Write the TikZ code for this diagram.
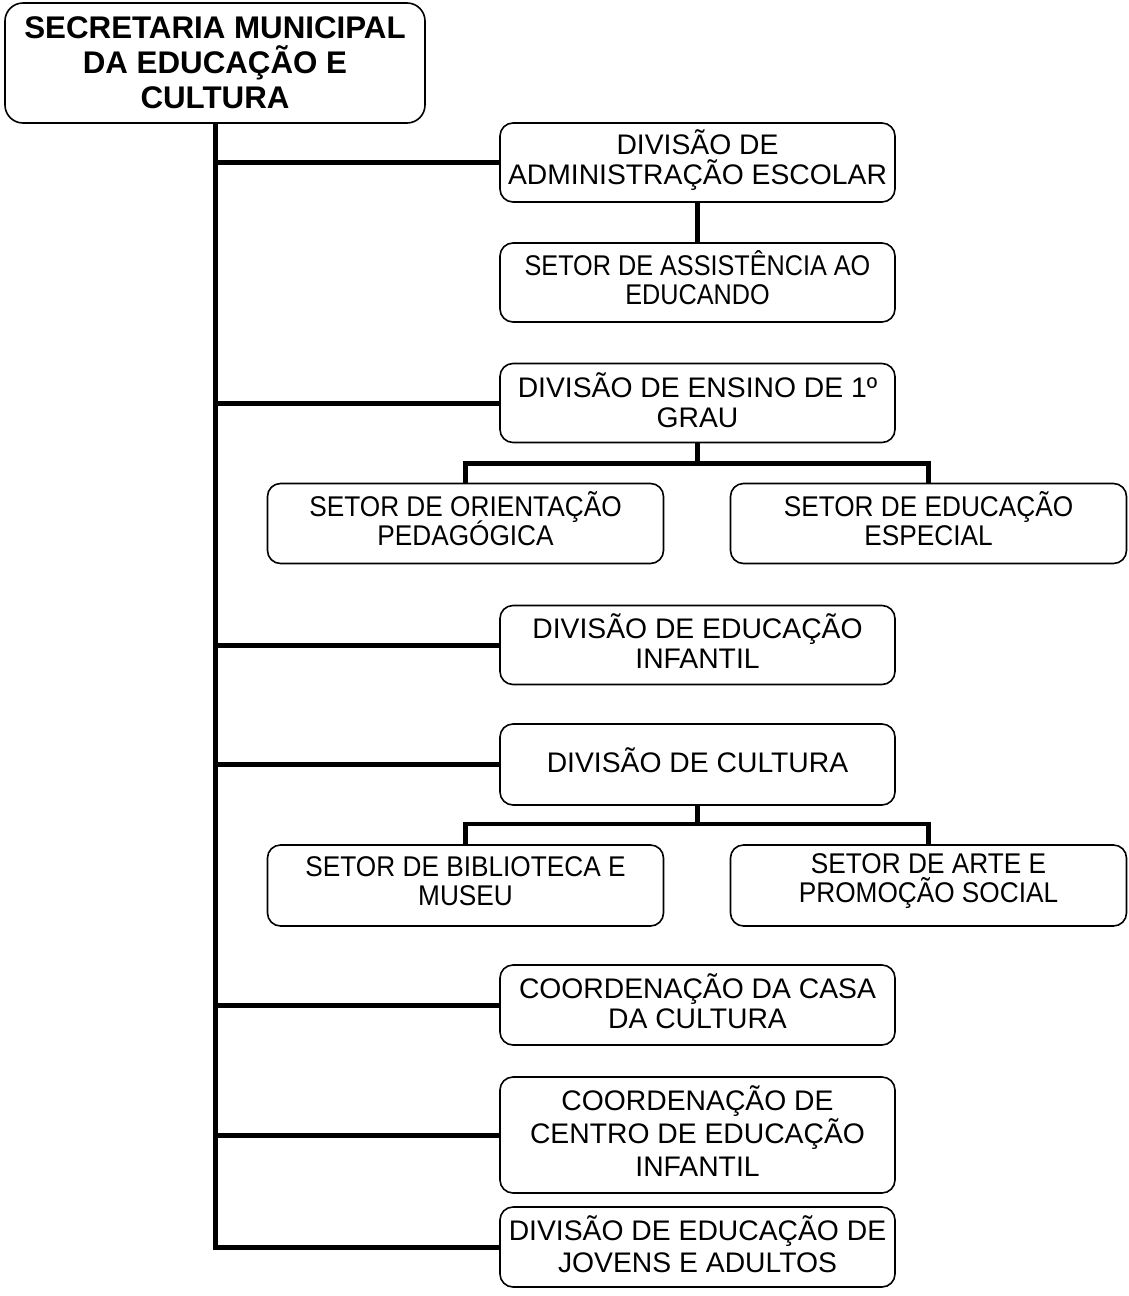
\documentclass[tikz,border=0pt]{standalone}
\usepackage{fontspec}
\setmainfont{Liberation Sans}
\newfontfamily\setorfamily[FakeStretch=0.92]{Liberation Sans}
\newfontfamily\setornarrow[FakeStretch=0.885]{Liberation Sans}
\begin{document}
% keep a steady line pitch even where accents and cedillas meet
\lineskiplimit=-100pt
\begin{tikzpicture}[x=1pt,y=-1pt,
  box/.style={draw, line width=1.6pt, rounded corners=13pt, inner sep=0pt, fill=white},
  topbox/.style={box, rounded corners=18pt, minimum width=420pt, minimum height=120pt,
    align=center, font=\fontsize{31.3}{35}\selectfont\bfseries},
  divbox/.style={box, minimum width=395pt, minimum height=79pt},
  setorbox/.style={box, minimum width=396pt, minimum height=80pt},
  divtext/.style={inner sep=0pt, align=center, yshift=4pt,
    font=\fontsize{28.3}{30}\selectfont},
  setortext/.style={inner sep=0pt, align=center, yshift=4.5pt,
    font=\setorfamily\fontsize{28.5}{29}\selectfont},
  trunk/.style={line width=5pt},
  link/.style={line width=4.5pt}]
\useasboundingbox (0,0) rectangle (1128,1296);

% head of the organisation
\node[topbox] (sec) at (215,63) {SECRETARIA MUNICIPAL\\DA EDUCAÇÃO E\\CULTURA};

% divisions, sectors and coordinations
\node[divbox, label={[divtext, yshift=-2pt]center:{DIVISÃO DE\\ADMINISTRAÇÃO ESCOLAR}}]
  (adm) at (697.5,162.5) {};
\node[divbox, label={[setortext, font=\setornarrow\fontsize{28.5}{29}\selectfont]center:{SETOR DE ASSISTÊNCIA AO\\EDUCANDO}}]
  (ass) at (697.5,282.5) {};
\node[divbox, label={[divtext, yshift=-1pt]center:{DIVISÃO DE ENSINO DE 1º\\GRAU}}]
  (ens) at (697.5,403) {};
\node[setorbox, label={[setortext]center:{SETOR DE ORIENTAÇÃO\\PEDAGÓGICA}}]
  (ori) at (465.5,523.5) {};
\node[setorbox, label={[setortext]center:{SETOR DE EDUCAÇÃO\\ESPECIAL}}]
  (esp) at (928.5,523.5) {};
\node[divbox, label={[divtext]center:{DIVISÃO DE EDUCAÇÃO\\INFANTIL}}]
  (inf) at (697.5,645) {};
\node[divbox, minimum height=81pt, label={[divtext]center:{DIVISÃO DE CULTURA}}]
  (cul) at (697.5,764.5) {};
\node[setorbox, minimum height=81pt, label={[setortext]center:{SETOR DE BIBLIOTECA E\\MUSEU}}]
  (bib) at (465.5,885.5) {};
\node[setorbox, minimum height=81pt, label={[setortext]center:{SETOR DE ARTE E\\PROMOÇÃO SOCIAL}}]
  (art) at (928.5,885.5) {};
\node[divbox, minimum height=80pt, label={[divtext]center:{COORDENAÇÃO DA CASA\\DA CULTURA}}]
  (cas) at (697.5,1005) {};
\node[divbox, minimum height=116pt, label={[divtext, font=\fontsize{28.3}{33}\selectfont]center:{COORDENAÇÃO DE\\CENTRO DE EDUCAÇÃO\\INFANTIL}}]
  (cen) at (697.5,1135) {};
\node[divbox, minimum height=80pt, label={[divtext, yshift=-1pt, font=\fontsize{28.3}{32}\selectfont]center:{DIVISÃO DE EDUCAÇÃO DE\\JOVENS E ADULTOS}}]
  (jov) at (697.5,1247) {};

% main trunk with its branches
\draw[trunk] (sec.south) -- (sec.south |- jov.west) -- (jov.west);
\foreach \n in {adm,ens,inf,cul,cas,cen}
  \draw[trunk] (sec.south |- \n.west) -- (\n.west);

% sub-units
\draw[link] (adm.south) -- (ass.north);
\draw[link] (ens.south) -- ++(0,21);
\draw[link] (ori.north) -- ++(0,-19) -| (esp.north);
\draw[link] (cul.south) -- ++(0,20);
\draw[link] (bib.north) -- ++(0,-20) -| (art.north);
\end{tikzpicture}
\end{document}
